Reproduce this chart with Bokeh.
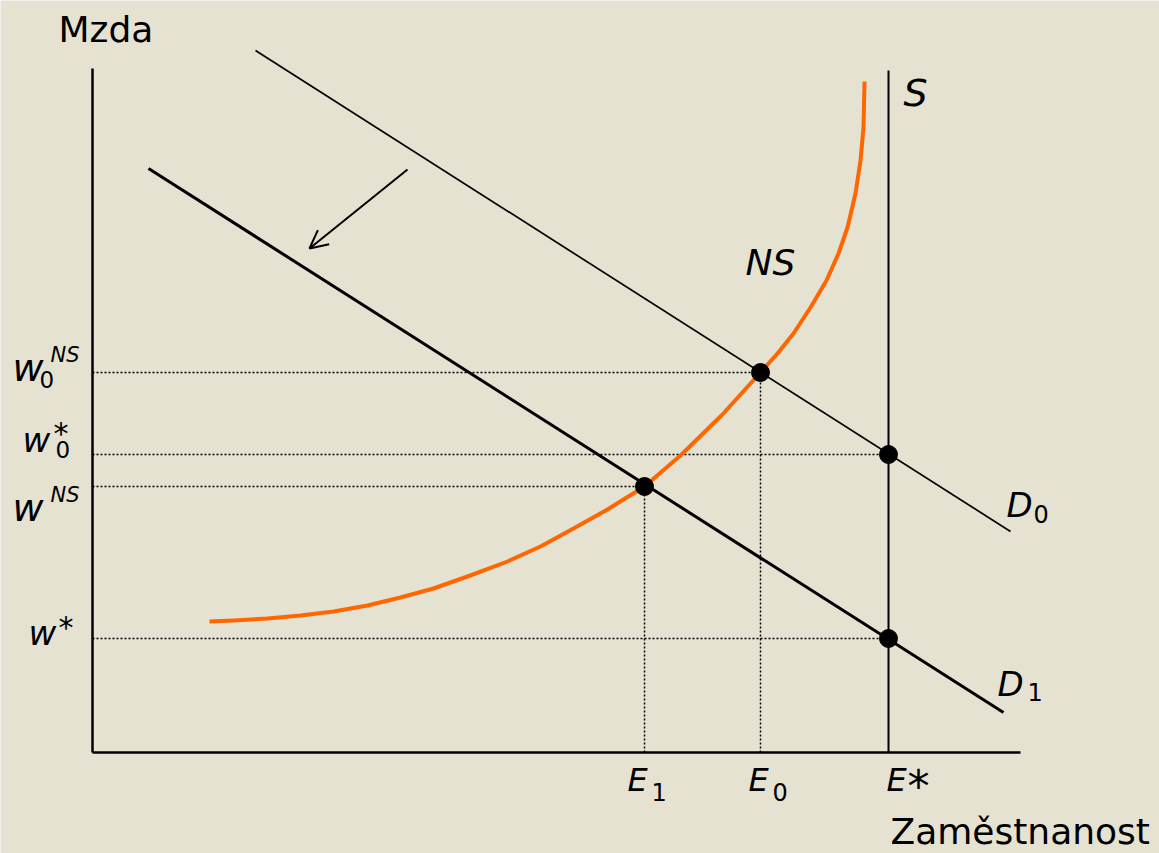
from bokeh.plotting import figure
from bokeh.models import Range1d, Label, Arrow, OpenHead
from bokeh.embed import file_html
from bokeh.resources import INLINE

# ---- data (employment on x, wage on y; origin at axes crossing) ----
# demand curves (end points)
d0_x = [163, 918]
d0_y = [702, 221]
d1_x = [56, 911]
d1_y = [584, 40]
# vertical supply S at full employment E*
s_x = [796, 796]
s_y = [0, 682]
# no-shirking curve NS
ns_x = [117, 141, 175, 208, 241, 275, 308, 341, 375, 415, 448, 481, 515, 552,
        588, 629, 668, 685, 701, 718, 734, 746, 755, 763, 768, 771, 772]
ns_y = [131, 132, 134, 137, 141, 147, 155, 164, 176, 191, 206, 224, 243, 266,
        297, 337, 380, 399, 419, 445, 472, 499, 525, 559, 592, 625, 671]
# equilibrium points
pt_x = [668, 796, 552, 796]
pt_y = [380, 298, 266, 114]
# guide lines: horizontal ones from the wage axis to the point
h_end_x = [668, 796, 552, 796]
h_y = [380, 298, 266, 114]
# vertical guides from the employment axis up to the point
v_x = [552, 668]
v_top = [266, 380]
# axes
yaxis_top = 684
xaxis_right = 928
# shift arrow
arrow_start = (315, 583)
arrow_end = (217, 504)

BG = "#E5E2D2"
ORANGE = "#FF6600"
FONT = "DejaVu Sans"

p = figure(width=1159, height=853, output_backend="svg", toolbar_location=None,
           x_range=Range1d(-92, 1067), y_range=Range1d(-101, 752),
           min_border=0, background_fill_color=BG, border_fill_color=BG)
p.outline_line_color = None
p.axis.visible = False
p.grid.visible = False

# axes
p.line([0, 0], [0, yaxis_top], line_color="black", line_width=2.5)
p.line([0, xaxis_right], [0, 0], line_color="black", line_width=2.5)

# dotted guides
p.segment(x0=[0] * len(h_y), y0=h_y, x1=h_end_x, y1=h_y,
          line_color="black", line_width=1.5, line_dash="2 2")
p.segment(x0=v_x, y0=[0] * len(v_x), x1=v_x, y1=v_top,
          line_color="black", line_width=1.5, line_dash="2 2")

# curves
p.line(d0_x, d0_y, line_color="black", line_width=1.7)
p.line(d1_x, d1_y, line_color="black", line_width=3)
p.line(s_x, s_y, line_color="black", line_width=2)
p.line(ns_x, ns_y, line_color=ORANGE, line_width=4, line_join="round")

# points
p.scatter(pt_x, pt_y, size=18, color="black")

# arrow
p.add_layout(Arrow(end=OpenHead(size=18, line_width=2, line_color="black"),
                   x_start=arrow_start[0], y_start=arrow_start[1],
                   x_end=arrow_end[0], y_end=arrow_end[1],
                   line_width=2, line_color="black"))

DY = 13  # baseline correction


def lab(x, y, text, size, italic=True):
    p.add_layout(Label(x=x, y=y + DY, text=text, text_font=FONT,
                       text_font_size=f"{size}px",
                       text_font_style="italic" if italic else "normal",
                       text_color="black", text_baseline="alphabetic",
                       text_align="left"))


# axis titles
lab(-34, 710, "Mzda", 36, italic=False)
lab(798, -92, "Zaměstnanost", 36, italic=False)

# curve labels
lab(811, 647, "S", 38)
lab(653, 477, "NS", 36)
lab(914, 235, "D", 34)
lab(941, 226, "0", 24, italic=False)
lab(905, 56, "D", 34)
lab(935, 48, "1", 24, italic=False)

# employment labels
lab(535, -40, "E", 32)
lab(559, -52, "1", 24, italic=False)
lab(656, -40, "E", 32)
lab(680, -52, "0", 24, italic=False)
lab(794, -40, "E", 32)
lab(815, -47, "*", 44, italic=False)

# wage labels
lab(-80, 372, "w", 38)
lab(-42, 385, "NS", 21)
lab(-53, 360, "0", 23, italic=False)

lab(-70, 300, "w", 34)
lab(-39, 306, "*", 30, italic=False)
lab(-37, 290, "0", 23, italic=False)

lab(-80, 232, "w", 38)
lab(-42, 245, "NS", 21)

lab(-64, 107, "w", 34)
lab(-34, 112, "*", 30, italic=False)

open("out.html", "w").write(file_html(p, INLINE))
